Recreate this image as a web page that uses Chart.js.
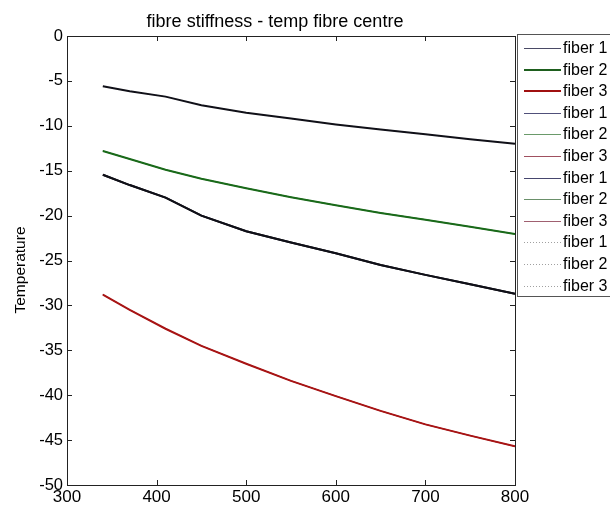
<!DOCTYPE html>
<html>
<head>
<meta charset="utf-8">
<script src="https://cdn.jsdelivr.net/npm/chart.js@4/dist/chart.umd.min.js"></script>
<style>
html,body{margin:0;padding:0;background:#fff;}
#wrap{width:610px;height:511px;position:relative;}
</style>
</head>
<body>
<div id="wrap"><canvas id="c" width="610" height="511"></canvas></div>
<script>
// ---- data ----
const xValues = [340, 370, 410, 450, 500, 550, 600, 650, 700, 750, 800];
const fibre1Upper = [-5.6, -6.15, -6.75, -7.7, -8.55, -9.2, -9.85, -10.4, -10.95, -11.5, -12.0];
const fibre1Lower = [-15.45, -16.6, -18.0, -20.0, -21.75, -23.0, -24.2, -25.5, -26.6, -27.65, -28.7];
const fibre2Values = [-12.8, -13.7, -14.9, -15.9, -16.95, -17.95, -18.85, -19.7, -20.45, -21.25, -22.05];
const fibre3Values = [-28.8, -30.5, -32.6, -34.5, -36.5, -38.4, -40.1, -41.75, -43.25, -44.5, -45.7];
const seriesLabels = ['fiber 1', 'fiber 2', 'fiber 3'];
const xTicks = [300, 400, 500, 600, 700, 800];
const yTicks = [0, -5, -10, -15, -20, -25, -30, -35, -40, -45, -50];
const titleText = 'fibre stiffness - temp fibre centre';
const yAxisTitle = 'Temperature';

const pts = arr => xValues.map((x, i) => ({x: x, y: arr[i]}));
const FONT = '"Liberation Sans", Arial, sans-serif';

// groups: [data for fiber1, fiber2, fiber3]
const groups = [
  {data: [fibre1Upper, fibre2Values, fibre3Values], colors: ['#101018', '#1a6a1a', '#a81414'], legend: ['#4a4a66', '#1e5e1e', '#a01010'], lw: [1, 2, 2], width: [2, 2, 2], dash: []},
  {data: [fibre1Lower, fibre2Values, fibre3Values], colors: ['#101018', '#6a9a6a', '#a05060'], legend: ['#50507a', '#6a9a6a', '#a05060'], lw: [1, 1, 1], width: [2, 1, 1], dash: []},
  {data: [fibre1Lower, fibre2Values, fibre3Values], colors: ['#101018', '#6a906a', '#a06070'], legend: ['#46466e', '#6a906a', '#a06070'], lw: [1, 1, 1], width: [2, 1, 1], dash: []},
  {data: [fibre1Upper, fibre2Values, fibre3Values], colors: ['#aaaaaa', '#aaaaaa', '#aaaaaa'], legend: ['#a0a0a0', '#a0a0a0', '#a0a0a0'], lw: [1, 1, 1], width: [1, 1, 1], dash: [1, 2]}
];

const datasets = [];
const legendStyles = [];
groups.forEach(g => {
  for (let k = 0; k < 3; k++) {
    datasets.push({
      label: seriesLabels[k],
      data: pts(g.data[k]),
      borderColor: g.colors[k],
      borderWidth: g.width[k],
      borderDash: g.dash,
      pointRadius: 0,
      fill: false,
      tension: 0
    });
    legendStyles.push({color: g.legend[k], dash: g.dash.slice(), width: g.lw[k]});
  }
});

const boxPlugin = {
  id: 'matlabBox',
  afterDraw(chart) {
    const ctx = chart.ctx;
    const a = chart.chartArea;
    const xs = chart.scales.x, ys = chart.scales.y;
    ctx.save();
    ctx.strokeStyle = '#222';
    ctx.lineWidth = 1;
    ctx.setLineDash([]);
    // top and right borders
    ctx.beginPath();
    ctx.moveTo(Math.round(a.left) + 0.5, Math.round(a.top) + 0.5);
    ctx.lineTo(Math.round(a.right) + 0.5, Math.round(a.top) + 0.5);
    ctx.lineTo(Math.round(a.right) + 0.5, Math.round(a.bottom) + 0.5);
    ctx.stroke();
    // inward ticks
    const tl = 5;
    ctx.beginPath();
    xTicks.forEach(v => {
      const px = Math.round(xs.getPixelForValue(v)) + 0.5;
      ctx.moveTo(px, a.bottom); ctx.lineTo(px, a.bottom - tl);
      ctx.moveTo(px, a.top); ctx.lineTo(px, a.top + tl);
    });
    yTicks.forEach(v => {
      const py = Math.round(ys.getPixelForValue(v)) + 0.5;
      ctx.moveTo(a.left, py); ctx.lineTo(a.left + tl, py);
      ctx.moveTo(a.right, py); ctx.lineTo(a.right - tl, py);
    });
    ctx.stroke();

    // title
    ctx.fillStyle = '#000';
    ctx.font = '18px ' + FONT;
    ctx.textAlign = 'center';
    ctx.textBaseline = 'alphabetic';
    ctx.fillText(titleText, 275, 27);

    // y axis title
    ctx.save();
    ctx.translate(21, 270);
    ctx.rotate(-Math.PI / 2);
    ctx.font = '15.5px ' + FONT;
    ctx.textAlign = 'center';
    ctx.textBaseline = 'middle';
    ctx.fillText(yAxisTitle, 0, 0);
    ctx.restore();

    // legend box
    const lx = 517.5, ly = 34.5, lw = 120, lh = 262;
    ctx.fillStyle = '#fff';
    ctx.fillRect(lx, ly, lw, lh);
    ctx.strokeStyle = '#555';
    ctx.lineWidth = 1;
    ctx.strokeRect(lx, ly, lw, lh);
    ctx.font = '16px ' + FONT;
    ctx.textBaseline = 'middle';
    ctx.textAlign = 'left';
    for (let i = 0; i < chart.data.datasets.length; i++) {
      const ds = chart.data.datasets[i];
      const st = legendStyles[i];
      const y = Math.round(48 + i * 21.6) + (st.width === 1 ? 0.5 : 0);
      ctx.strokeStyle = st.color;
      ctx.lineWidth = st.width;
      ctx.setLineDash(st.dash);
      ctx.beginPath();
      ctx.moveTo(524, y);
      ctx.lineTo(561, y);
      ctx.stroke();
      ctx.setLineDash([]);
      ctx.fillStyle = '#000';
      ctx.fillText(ds.label, 563, Math.round(48 + i * 21.6) + 1);
    }
    ctx.restore();
  }
};

new Chart(document.getElementById('c'), {
  type: 'line',
  data: {datasets: datasets},
  options: {
    responsive: false,
    animation: false,
    layout: {padding: {top: 36, right: 95, bottom: 0, left: 0}},
    plugins: {
      legend: {display: false},
      tooltip: {enabled: false},
      title: {display: false}
    },
    scales: {
      x: {
        type: 'linear',
        min: 300, max: 800,
        afterBuildTicks: s => { s.ticks = xTicks.map(v => ({value: v})); },
        afterFit: s => { s.height = 26; },
        grid: {display: true, drawOnChartArea: false, drawTicks: false},
        border: {display: true, color: '#222', width: 1},
        ticks: {color: '#000', font: {size: 17, family: FONT}, padding: 2, maxRotation: 0}
      },
      y: {
        type: 'linear',
        min: -50, max: 0,
        afterBuildTicks: s => { s.ticks = yTicks.map(v => ({value: v})); },
        afterFit: s => { s.width = 67; },
        grid: {display: true, drawOnChartArea: false, drawTicks: false},
        border: {display: true, color: '#222', width: 1},
        ticks: {color: '#000', font: {size: 16.5, family: FONT}, padding: 4}
      }
    }
  },
  plugins: [boxPlugin]
});
</script>
</body>
</html>
